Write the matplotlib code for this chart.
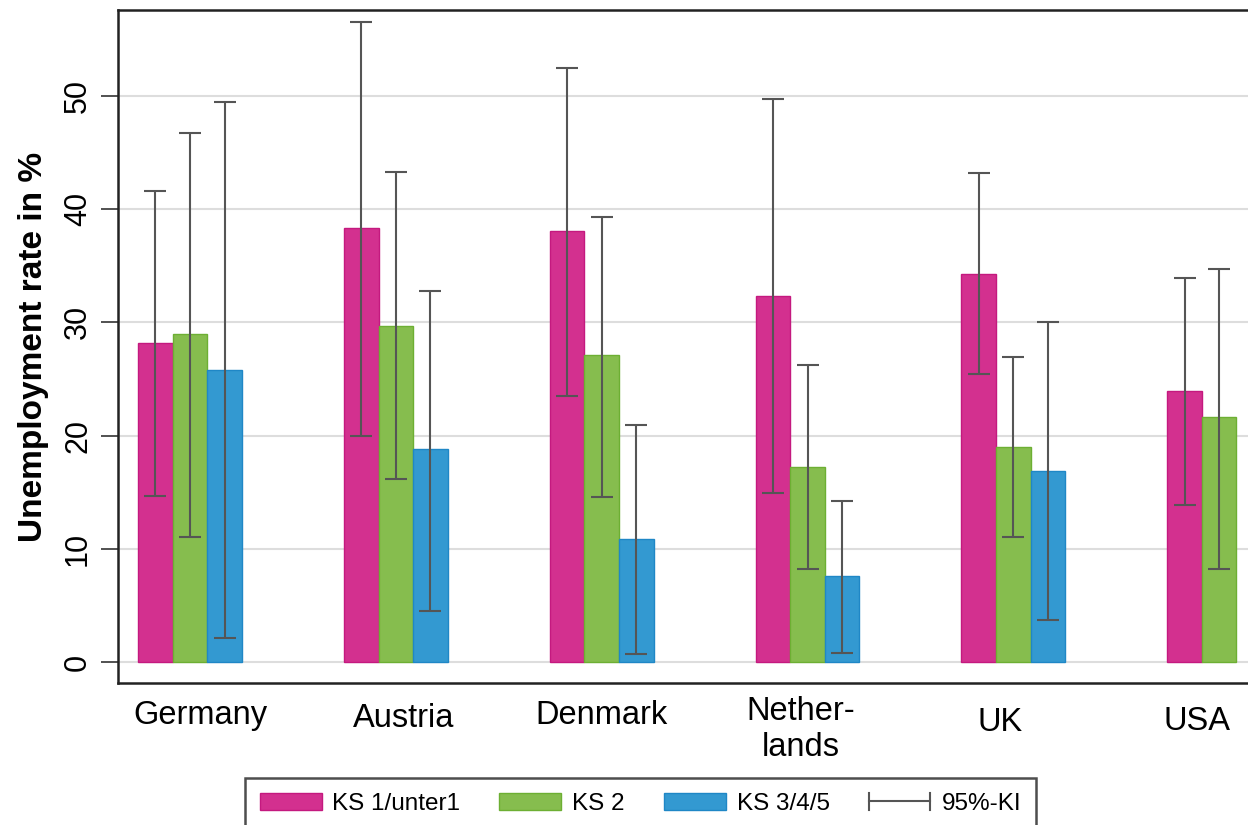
import matplotlib
matplotlib.use("Agg")
import matplotlib.pyplot as plt
import numpy as np
from matplotlib.legend_handler import HandlerBase
from matplotlib.lines import Line2D
from matplotlib.patches import Patch
import matplotlib.transforms as mtransforms

plt.rcParams['font.family'] = ['Liberation Sans', 'DejaVu Sans']

countries = ["Germany", "Austria", "Denmark", "Nether-\nlands", "UK", "USA"]
series_names = ["KS 1/unter1", "KS 2", "KS 3/4/5"]

ks1 = [28.2, 38.3, 38.1, 32.3, 34.3, 23.9]
ks1_lo = [14.7, 20.0, 23.5, 14.9, 25.4, 13.9]
ks1_hi = [41.6, 56.5, 52.5, 49.7, 43.2, 33.9]

ks2 = [29.0, 29.7, 27.1, 17.2, 19.0, 21.6]
ks2_lo = [11.0, 16.2, 14.6, 8.2, 11.0, 8.2]
ks2_hi = [46.7, 43.3, 39.3, 26.2, 26.9, 34.7]

ks3 = [25.8, 18.8, 10.9, 7.6, 16.9, None]
ks3_lo = [2.1, 4.5, 0.7, 0.8, 3.7, None]
ks3_hi = [49.5, 32.8, 20.9, 14.2, 30.0, None]

# label placement (pixel offsets from group centre / axis bottom)
label_dx = [10, 8, 0, -7, -13, -22]
label_dy = [17, 20, 17, 13, 24, 23]

colors = ["#D3308F", "#86BD4E", "#3399D1"]
edges = ["#C4197F", "#6DAF33", "#1F87C6"]
err_color = "#555555"

fig = plt.figure(figsize=(12.48, 8.25), dpi=100)
ax = fig.add_axes([118/1248, 1-683/825, 1-118/1248, (683-10)/825])

x = np.arange(len(countries))
w = 0.168
series = [(ks1, ks1_lo, ks1_hi), (ks2, ks2_lo, ks2_hi), (ks3, ks3_lo, ks3_hi)]
for i, (vals, lo, hi) in enumerate(series):
    idx = [j for j, v in enumerate(vals) if v is not None]
    xs = x[idx] + (i - 1) * w
    v = np.array([vals[j] for j in idx])
    l = np.array([lo[j] for j in idx])
    h = np.array([hi[j] for j in idx])
    ax.bar(xs, v, width=w, color=colors[i], edgecolor=edges[i], linewidth=1.0, zorder=2)
    ax.errorbar(xs, v, yerr=[v - l, h - v], fmt='none', ecolor=err_color,
                elinewidth=1.5, capsize=8, capthick=1.5, zorder=3)

ax.set_xlim(-0.35, 5.14)
ax.set_ylim(-1.86, 57.6)
ax.set_yticks([0, 10, 20, 30, 40, 50])
ax.set_yticklabels(["0", "10", "20", "30", "40", "50"], rotation=90, va='center', fontsize=22)
ax.tick_params(axis='y', length=12, width=1.2, pad=6, color='#333333')
ax.set_xticks([])
trans = mtransforms.blended_transform_factory(ax.transData, ax.transAxes)
for i, name in enumerate(countries):
    ax.annotate(name, xy=(x[i], 0), xycoords=trans,
                xytext=(label_dx[i] * 0.72, -label_dy[i] * 0.72), textcoords='offset points',
                ha='center', va='top', fontsize=23.5, linespacing=1.2, annotation_clip=False)
ax.grid(axis='y', color='#DDDDDD', linewidth=1.5, zorder=0)
ax.set_axisbelow(True)
for s in ['left', 'bottom', 'top']:
    ax.spines[s].set_color('#222222')
    ax.spines[s].set_linewidth(1.8)
ax.spines['right'].set_visible(False)
ax.set_ylabel("Unemployment rate in %", fontsize=24, fontweight='bold', labelpad=10)


class ErrHandler(HandlerBase):
    def create_artists(self, legend, orig_handle, xdescent, ydescent, width, height, fontsize, trans):
        yc = height / 2 - ydescent
        cap = height * 0.5
        l1 = Line2D([0 - xdescent, width - xdescent], [yc, yc], color=err_color, lw=1.5, transform=trans)
        l2 = Line2D([0 - xdescent, 0 - xdescent], [yc - cap, yc + cap], color=err_color, lw=1.5, transform=trans)
        l3 = Line2D([width - xdescent, width - xdescent], [yc - cap, yc + cap], color=err_color, lw=1.5, transform=trans)
        return [l1, l2, l3]


class ErrProxy:
    pass


handles = [Patch(facecolor=colors[i], edgecolor=edges[i]) for i in range(3)] + [ErrProxy()]
labels = series_names + ["95%-KI"]
leg = fig.legend(handles, labels, loc='upper left', bbox_to_anchor=(245/1248, 1-778/825),
                 ncol=4, fontsize=17.5, frameon=True, fancybox=False, edgecolor='#222222',
                 handlelength=2.55, handleheight=0.74, handletextpad=0.45, columnspacing=1.6,
                 borderpad=0.6, borderaxespad=0, handler_map={ErrProxy: ErrHandler()})
leg.get_frame().set_linewidth(1.8)

fig.savefig("out.png", dpi=100)
